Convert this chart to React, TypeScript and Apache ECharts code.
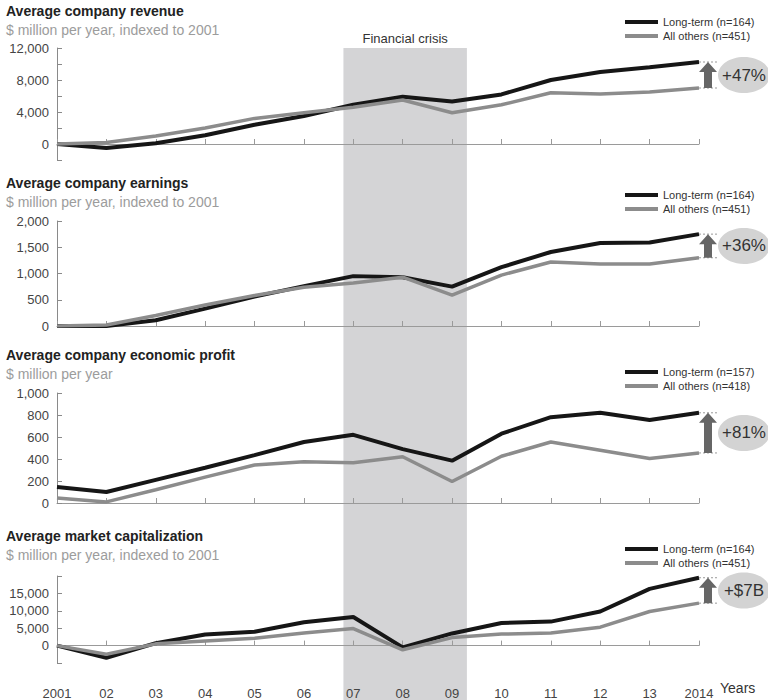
import React, { useEffect, useRef } from "react";
import * as echarts from "echarts";

const years = ["2001", "02", "03", "04", "05", "06", "07", "08", "09", "10", "11", "12", "13", "2014"];

const crisisStart = 2006.8;
const crisisEnd = 2009.3;

const revenueLong = [0, -500, 100, 1100, 2400, 3500, 4900, 5900, 5300, 6200, 8000, 9000, 9600, 10250];
const revenueOthers = [0, 200, 1000, 2000, 3200, 3900, 4600, 5500, 3900, 4900, 6400, 6250, 6500, 7000];

const earningsLong = [0, 0, 110, 330, 560, 760, 950, 930, 750, 1120, 1410, 1580, 1590, 1750];
const earningsOthers = [0, 20, 200, 400, 580, 740, 820, 930, 590, 970, 1220, 1180, 1180, 1300];

const profitLong = [145, 100, 210, 320, 435, 555, 620, 490, 385, 630, 780, 820, 755, 820];
const profitOthers = [45, 10, 120, 235, 345, 375, 365, 420, 195, 425, 555, 480, 405, 455];

const capLong = [0, -3500, 700, 3200, 4000, 6700, 8200, -500, 3500, 6500, 6900, 9800, 16300, 19500];
const capOthers = [0, -2500, 500, 1300, 2100, 3600, 4900, -1200, 2300, 3300, 3600, 5300, 9800, 12200];

const titles = [
  "Average company revenue",
  "Average company earnings",
  "Average company economic profit",
  "Average market capitalization",
];
const subtitles = [
  "$ million per year, indexed to 2001",
  "$ million per year, indexed to 2001",
  "$ million per year",
  "$ million per year, indexed to 2001",
];
const longNames = ["Long-term (n=164)", "Long-term (n=164)", "Long-term (n=157)", "Long-term (n=164)"];
const otherNames = ["All others (n=451)", "All others (n=451)", "All others (n=418)", "All others (n=451)"];
const gapLabels = ["+47%", "+36%", "+81%", "+$7B"];

const yMins = [-2000, 0, 0, -5000];
const yMaxs = [12000, 2000, 1000, 20000];
const yIntervals = [2000, 500, 200, 5000];
const yLabelled = [
  [0, 4000, 8000, 12000],
  [0, 500, 1000, 1500, 2000],
  [0, 200, 400, 600, 800, 1000],
  [0, 5000, 10000, 15000],
];

const longSeries = [revenueLong, earningsLong, profitLong, capLong];
const otherSeries = [revenueOthers, earningsOthers, profitOthers, capOthers];

// layout
const gridTops = [48, 221, 393, 576];
const gridHeights = [112, 105, 110, 100];
const titleTops = [3, 175, 347, 528];
const legendTops = [15, 188, 365, 542];
const GRID_LEFT = 57;
const GRID_RIGHT = 69;

const FONT = "'Liberation Sans', Arial, Helvetica, sans-serif";
const BLACK = "#161616";
const GRAY = "#8c8c8c";

export default function App() {
  const ref = useRef<HTMLDivElement>(null);

  useEffect(() => {
    if (!ref.current) return;
    const chart = echarts.init(ref.current, null, { renderer: "svg" });

    const grids: any[] = [];
    const xAxes: any[] = [];
    const yAxes: any[] = [];
    const series: any[] = [];
    const legends: any[] = [];
    const titleArr: any[] = [];

    for (let i = 0; i < 4; i++) {
      grids.push({ left: GRID_LEFT, right: GRID_RIGHT, top: gridTops[i], height: gridHeights[i] });
      xAxes.push({
        type: "category",
        gridIndex: i,
        data: years,
        boundaryGap: false,
        z: 2,
        axisLine: { show: true, onZero: true, lineStyle: { color: "#9a9a9a", width: 1 } },
        axisTick: { show: true, inside: true, length: 5, alignWithLabel: true, lineStyle: { color: "#9a9a9a" } },
        axisLabel: {
          show: i === 3,
          interval: 0,
          margin: 24,
          color: "#444",
          fontSize: 13,
          fontFamily: FONT,
        },
        splitLine: { show: false },
      });
      const labelled = yLabelled[i];
      yAxes.push({
        type: "value",
        gridIndex: i,
        min: yMins[i],
        max: yMaxs[i],
        interval: yIntervals[i],
        z: 2,
        axisLine: { show: true, lineStyle: { color: "#8a8a8a", width: 1 } },
        axisTick: { show: true, inside: true, length: 5, lineStyle: { color: "#8a8a8a" } },
        axisLabel: {
          margin: 8,
          color: "#444",
          fontSize: 13,
          fontFamily: FONT,
          formatter: (v: number) => (labelled.indexOf(v) >= 0 ? v.toLocaleString("en-US") : ""),
        },
        splitLine: { show: false },
      });
      series.push({
        type: "line",
        name: longNames[i],
        xAxisIndex: i,
        yAxisIndex: i,
        data: longSeries[i],
        symbol: "none",
        z: 3,
        lineStyle: { color: BLACK, width: 4 },
        itemStyle: { color: BLACK },
      });
      series.push({
        type: "line",
        name: otherNames[i],
        xAxisIndex: i,
        yAxisIndex: i,
        data: otherSeries[i],
        symbol: "none",
        z: 4,
        lineStyle: { color: GRAY, width: 3.5 },
        itemStyle: { color: GRAY },
      });
      legends.push({
        left: 625,
        top: legendTops[i],
        padding: 0,
        orient: "vertical",
        itemWidth: 33,
        itemHeight: 4,
        itemGap: 0,
        selectedMode: false,
        icon: "rect",
        data: [longNames[i], otherNames[i]],
        textStyle: { fontSize: 11, color: "#333", fontFamily: FONT, lineHeight: 14 },
      });
      titleArr.push({
        left: 6,
        top: titleTops[i],
        padding: 0,
        itemGap: 3,
        text: titles[i],
        subtext: subtitles[i],
        textStyle: { fontSize: 14, fontWeight: "bold", color: "#222", fontFamily: FONT, lineHeight: 16 },
        subtextStyle: { fontSize: 14, color: "#9c9c9c", fontFamily: FONT, lineHeight: 16 },
      });
    }

    // shading grid (spans the whole chart area)
    grids.push({ left: GRID_LEFT, right: GRID_RIGHT, top: gridTops[0], bottom: 0 });
    xAxes.push({ type: "value", gridIndex: 4, min: 2001, max: 2014, show: false });
    yAxes.push({ type: "value", gridIndex: 4, min: 0, max: 1, show: false });
    series.push({
      type: "line",
      name: "crisis",
      xAxisIndex: 4,
      yAxisIndex: 4,
      data: [],
      z: 0,
      silent: true,
      markArea: {
        silent: true,
        itemStyle: { color: "#d4d4d6" },
        label: {
          show: true,
          position: "top",
          distance: 3,
          color: "#333",
          fontSize: 13,
          fontFamily: FONT,
        },
        data: [[{ name: "Financial crisis", xAxis: crisisStart }, { xAxis: crisisEnd }]],
      },
    });

    chart.setOption({
      animation: false,
      textStyle: { fontFamily: FONT },
      title: titleArr,
      legend: legends,
      grid: grids,
      xAxis: xAxes,
      yAxis: yAxes,
      series,
    });

    const graphics: any[] = [];
    const last = years.length - 1;
    for (let i = 0; i < 4; i++) {
      const pB = chart.convertToPixel({ seriesIndex: i * 2 }, [last, longSeries[i][last]]) as number[];
      const pG = chart.convertToPixel({ seriesIndex: i * 2 + 1 }, [last, otherSeries[i][last]]) as number[];
      const x = pB[0];
      const yB = pB[1];
      const yG = pG[1];
      const ax = x + 9;
      graphics.push({
        type: "line",
        shape: { x1: x, y1: yB, x2: x + 20, y2: yB },
        style: { stroke: "#999", lineWidth: 1, lineDash: [2, 2] },
        z: 10,
      });
      graphics.push({
        type: "line",
        shape: { x1: x, y1: yG, x2: x + 20, y2: yG },
        style: { stroke: "#999", lineWidth: 1, lineDash: [2, 2] },
        z: 10,
      });
      graphics.push({
        type: "polygon",
        shape: {
          points: [
            [ax, yB],
            [ax + 9, yB + 10],
            [ax + 4, yB + 10],
            [ax + 4, yG],
            [ax - 4, yG],
            [ax - 4, yB + 10],
            [ax - 9, yB + 10],
          ],
        },
        style: { fill: "#666" },
        z: 10,
      });
      const cy = (yB + yG) / 2;
      const cx = x + 45;
      graphics.push({
        type: "ellipse",
        shape: { cx, cy, rx: 26, ry: 18 },
        style: { fill: "#d3d3d3" },
        z: 10,
      });
      graphics.push({
        type: "text",
        x: cx,
        y: cy,
        style: {
          text: gapLabels[i],
          fontSize: 17,
          fontFamily: FONT,
          fill: "#333",
          align: "center",
          verticalAlign: "middle",
        },
        z: 11,
      });
    }
    graphics.push({
      type: "text",
      x: 720,
      y: 688,
      style: {
        text: "Years",
        fontSize: 14,
        fontFamily: FONT,
        fill: "#333",
        align: "left",
        verticalAlign: "middle",
      },
      z: 11,
    });
    chart.setOption({ graphic: graphics });

    return () => chart.dispose();
  }, []);

  return (
    <div
      ref={ref}
      style={{ position: "fixed", left: 0, top: 0, width: 768, height: 700, background: "#fff" }}
    />
  );
}
